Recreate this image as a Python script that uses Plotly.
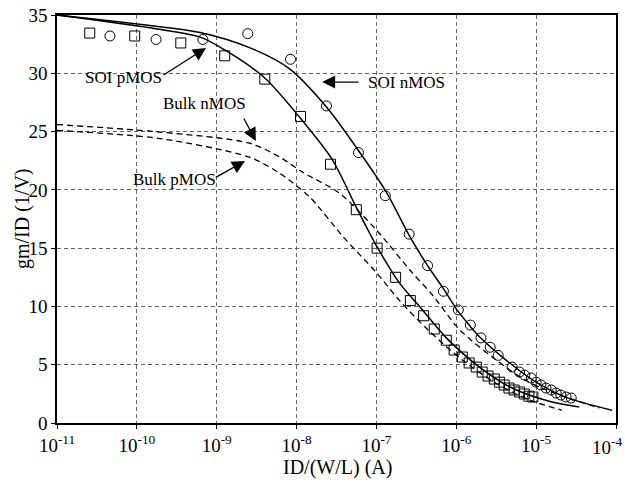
import plotly.graph_objects as go

# ---- data ----
# SOI nMOS measured points (circles)
soi_n_pts_x = [4.6e-11, 1.74e-10, 6.7e-10, 2.45e-9, 8.4e-9, 2.37e-8, 5.96e-8, 1.29e-7, 2.57e-7,
               4.37e-7, 6.9e-7, 1.06e-6, 1.5e-6, 2.04e-6, 2.66e-6, 3.35e-6, 5.0e-6, 6.2e-6,
               7.2e-6, 8.7e-6, 1.0e-5, 1.15e-5, 1.33e-5, 1.55e-5, 1.78e-5, 2.04e-5, 2.37e-5, 2.75e-5]
soi_n_pts_y = [33.2, 32.9, 32.9, 33.4, 31.2, 27.2, 23.2, 19.5, 16.2,
               13.5, 11.3, 9.7, 8.4, 7.3, 6.5, 5.8, 4.8, 4.37,
               4.1, 3.86, 3.5, 3.26, 3.0, 2.83, 2.57, 2.4, 2.23, 2.14]

# SOI pMOS measured points (squares)
soi_p_pts_x = [2.57e-11, 9.4e-11, 3.55e-10, 1.26e-9, 4.0e-9, 1.12e-8, 2.66e-8, 5.6e-8, 1.02e-7,
               1.74e-7, 2.66e-7, 3.9e-7, 5.3e-7, 7.5e-7, 9.4e-7, 1.19e-6, 1.45e-6, 1.78e-6,
               2.11e-6, 2.5e-6, 2.99e-6, 3.47e-6, 3.98e-6, 4.57e-6, 5.3e-6, 6.2e-6, 7.1e-6,
               8.1e-6, 9.1e-6]
soi_p_pts_y = [33.45, 33.2, 32.6, 31.5, 29.5, 26.3, 22.2, 18.3, 15.0,
               12.5, 10.5, 9.2, 8.06, 7.1, 6.26, 5.66, 5.15, 4.8,
               4.37, 4.03, 3.77, 3.5, 3.26, 3.0, 2.83, 2.66, 2.49,
               2.3, 2.23]

# SOI nMOS model (solid)
soi_n_x = [1e-11, 1.45e-10, 6.2e-10, 2.57e-9, 8.1e-9, 2.37e-8, 6.2e-8, 1.33e-7, 2.57e-7,
           4.37e-7, 7.1e-7, 1.02e-6, 1.45e-6, 1.95e-6, 4.2e-6, 1e-5, 2.37e-5, 8.9e-5]
soi_n_y = [35.0, 34.1, 33.5, 32.2, 30.4, 27.1, 23.2, 19.8, 16.1,
           13.5, 11.4, 9.7, 8.4, 7.4, 5.4, 3.5, 2.2, 1.1]

# SOI pMOS model (solid)
soi_p_x = [1e-11, 1.45e-10, 6.2e-10, 1.26e-9, 4e-9, 1.1e-8, 2.8e-8, 5.6e-8, 1.02e-7,
           1.95e-7, 3.47e-7, 7.5e-7, 1.95e-6, 5e-6, 1.58e-5, 3.47e-5]
soi_p_y = [35.0, 33.9, 33.1, 32.0, 29.6, 26.2, 22.6, 18.5, 15.1,
           12.0, 10.0, 7.3, 4.8, 3.0, 1.8, 1.37]

# Bulk nMOS model (dashed)
bulk_n_x = [1e-11, 1.95e-10, 2.57e-9, 6.2e-9, 1.2e-8, 3.47e-8, 1e-7, 2.8e-7, 5e-7,
            1.1e-6, 3.16e-6, 8.1e-6, 2.37e-5, 6.2e-5]
bulk_n_y = [25.6, 24.96, 24.0, 22.8, 21.5, 19.7, 16.55, 12.9, 11.0,
            8.0, 5.4, 3.5, 2.2, 1.3]

# Bulk pMOS model (dashed)
bulk_p_x = [1e-11, 1.95e-10, 2.57e-9, 6.2e-9, 1.45e-8, 3.8e-8, 1e-7, 1.95e-7, 4.4e-7,
            1.19e-6, 3.16e-6, 8.1e-6, 2.1e-5]
bulk_p_y = [25.1, 24.4, 22.8, 21.4, 19.4, 16.0, 12.9, 10.5, 8.0,
            5.4, 3.4, 2.0, 1.1]

x_tick_vals = [1e-11, 1e-10, 1e-9, 1e-8, 1e-7, 1e-6, 1e-5, 1e-4]
x_tick_text = ["10<sup>-11</sup>", "10<sup>-10</sup>", "10<sup>-9</sup>", "10<sup>-8</sup>",
               "10<sup>-7</sup>", "10<sup>-6</sup>", "10<sup>-5</sup>", ""]
last_x_tick_text = "10<sup>-4</sup>"
y_tick_vals = [0, 5, 10, 15, 20, 25, 30, 35]

FONT = "Liberation Serif, Times New Roman, serif"

fig = go.Figure()
line_style = dict(color="black", width=1.5, shape="spline", smoothing=0.8)
dash_style = dict(color="black", width=1.3, dash="6px,4px", shape="spline", smoothing=0.8)

fig.add_trace(go.Scatter(x=soi_n_x, y=soi_n_y, mode="lines", line=line_style, name="SOI nMOS"))
fig.add_trace(go.Scatter(x=soi_p_x, y=soi_p_y, mode="lines", line=line_style, name="SOI pMOS"))
fig.add_trace(go.Scatter(x=bulk_n_x, y=bulk_n_y, mode="lines", line=dash_style, name="Bulk nMOS"))
fig.add_trace(go.Scatter(x=bulk_p_x, y=bulk_p_y, mode="lines", line=dash_style, name="Bulk pMOS"))
fig.add_trace(go.Scatter(x=soi_n_pts_x, y=soi_n_pts_y, mode="markers",
                         marker=dict(symbol="circle-open", size=10, color="black", line=dict(width=1)),
                         name="SOI nMOS data"))
fig.add_trace(go.Scatter(x=soi_p_pts_x, y=soi_p_pts_y, mode="markers",
                         marker=dict(symbol="square-open", size=10, color="black", line=dict(width=1)),
                         name="SOI pMOS data"))

# text labels (log10 x for annotation coordinates)
labels = [("SOI pMOS", -10.17, 29.6), ("Bulk nMOS", -9.15, 27.45),
          ("Bulk pMOS", -9.53, 20.85), ("SOI nMOS", -6.62, 29.25)]
for txt, lx, ly in labels:
    fig.add_annotation(x=lx, y=ly, xref="x", yref="y", text=txt, showarrow=False,
                       font=dict(family=FONT, size=17, color="black"))

arrows = [(-9.685, 29.77, -9.134, 32.17), (-8.67, 26.25, -8.51, 24.19),
          (-9.03, 21.0, -8.646, 22.48), (-7.206, 29.25, -7.68, 29.25)]
for tx, ty, hx, hy in arrows:
    fig.add_annotation(x=hx, y=hy, xref="x", yref="y", ax=tx, ay=ty, axref="x", ayref="y",
                       text="", showarrow=True, arrowhead=2, arrowsize=2, arrowwidth=1.3,
                       arrowcolor="black")

# last x tick label, kept inside the page
fig.add_annotation(x=1.0145, y=-0.022, xref="paper", yref="paper", text=last_x_tick_text,
                   showarrow=False, font=dict(family=FONT, size=19, color="black"),
                   xanchor="right", yanchor="top")

# axis titles
fig.add_annotation(x=0.501, y=-0.108, xref="paper", yref="paper", text="ID/(W/L) (A)",
                   showarrow=False, font=dict(family=FONT, size=20, color="black"),
                   xanchor="center", yanchor="middle")
fig.add_annotation(x=-0.0626, y=0.5, xref="paper", yref="paper", text="gm/ID (1/V)",
                   showarrow=False, textangle=-90, font=dict(family=FONT, size=20, color="black"),
                   xanchor="center", yanchor="middle")

fig.update_layout(
    width=625, height=492,
    margin=dict(l=57, r=9, t=15, b=69),
    paper_bgcolor="white", plot_bgcolor="white",
    showlegend=False,
    font=dict(family=FONT, size=18, color="black"),
)
grid = dict(showgrid=True, gridcolor="#666", gridwidth=0.7, griddash="4px,3px")
fig.update_xaxes(type="log", range=[-11, -4], tickvals=x_tick_vals, ticktext=x_tick_text,
                 showline=True, linecolor="black", linewidth=1.5, mirror=True,
                 ticks="outside", ticklen=4, tickcolor="black", automargin=False,
                 tickfont=dict(family=FONT, size=19), zeroline=False, **grid)
fig.update_yaxes(range=[0, 35], tickvals=y_tick_vals,
                 showline=True, linecolor="black", linewidth=1.5, mirror=True,
                 ticks="outside", ticklen=4, tickcolor="black", automargin=False,
                 tickfont=dict(family=FONT, size=19), zeroline=False, **grid)

fig.write_html("out.html", config={"displayModeBar": False},
               post_script="document.body.style.margin='0px';document.body.style.overflow='hidden';")
